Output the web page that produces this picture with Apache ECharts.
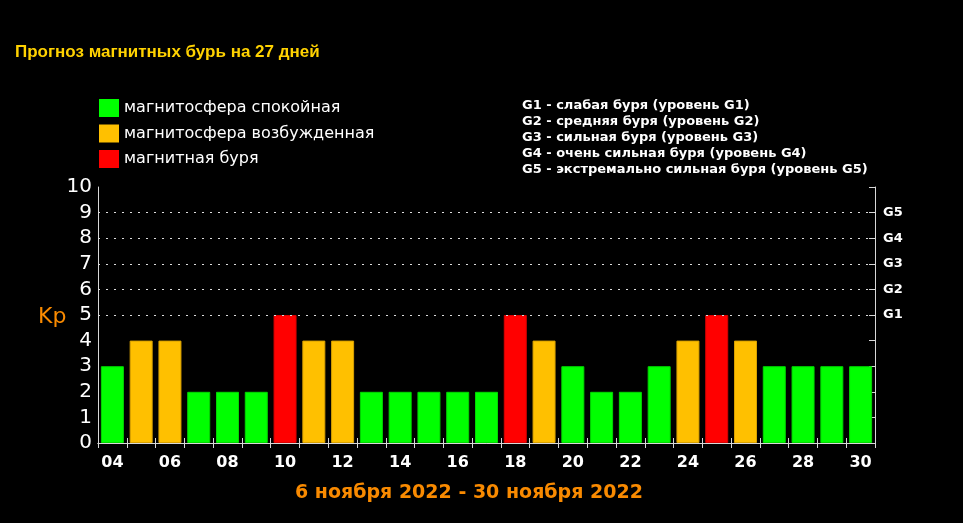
<!DOCTYPE html>
<html>
<head>
<meta charset="utf-8">
<script src="https://cdn.jsdelivr.net/npm/echarts@6/dist/echarts.min.js"></script>
<style>
html,body{margin:0;padding:0;background:#000;}
#chart{width:963px;height:523px;}
</style>
</head>
<body>
<div id="chart"></div>
<script>
const days = ['04','05','06','07','08','09','10','11','12','13','14','15','16','17','18','19','20','21','22','23','24','25','26','27','28','29','30'];
const kp = [3,4,4,2,2,2,5,4,4,2,2,2,2,2,5,4,3,2,2,3,4,5,4,3,3,3,3];
const levelNames = ['магнитосфера спокойная','магнитосфера возбужденная','магнитная буря'];
const levelColors = ['#00ff00','#ffc000','#ff0000'];
const levelBorders = ['#00d800','#d8a000','#d80000'];
const gLevels = [5,6,7,8,9];
const gLabels = ['G1','G2','G3','G4','G5'];
const gLegend = [
  'G1 - слабая буря (уровень G1)',
  'G2 - средняя буря (уровень G2)',
  'G3 - сильная буря (уровень G3)',
  'G4 - очень сильная буря (уровень G4)',
  'G5 - экстремально сильная буря (уровень G5)'
];
const titleText = 'Прогноз магнитных бурь на 27 дней';
const periodText = '6 ноября 2022 - 30 ноября 2022';

function levelOf(v){ return v >= 5 ? 2 : (v >= 4 ? 1 : 0); }

const series = levelNames.map((name, li) => ({
  name: name,
  type: 'bar',
  stack: 'kp',
  barWidth: 23,
  itemStyle: {color: levelColors[li], borderColor: levelBorders[li], borderWidth: 1},
  data: kp.map(v => levelOf(v) === li ? v : '-')
}));
series[0].markLine = {
  silent: true,
  symbol: 'none',
  label: {show: false},
  lineStyle: {color: '#dddddd', type: [2, 6], width: 1},
  data: gLevels.map(v => ({yAxis: v}))
};

const chart = echarts.init(document.getElementById('chart'));
chart.setOption({
  backgroundColor: '#000',
  animation: false,
  title: [
    {text: titleText, left: 15, top: 44, padding: 0, textStyle: {color: '#ffd200', fontSize: 17, fontWeight: 'bold', fontFamily: 'Liberation Sans'}},
    {text: periodText, left: 295, top: 484, padding: 0, textStyle: {color: '#f98a00', fontSize: 19, fontWeight: 'bold', fontFamily: 'DejaVu Sans'}},
    {text: gLegend.join('\n'), left: 522, top: 98, padding: 0, textStyle: {color: '#ffffff', fontSize: 13, fontWeight: 'bold', lineHeight: 16, fontFamily: 'DejaVu Sans'}},
    {text: 'Kp', left: 38, top: 306, padding: 0, textStyle: {color: '#f98a00', fontSize: 22, fontWeight: 'normal', fontFamily: 'DejaVu Sans'}}
  ],
  legend: {
    data: levelNames,
    orient: 'vertical',
    left: 99, top: 99,
    padding: 0,
    icon: 'rect',
    itemWidth: 20, itemHeight: 18, itemGap: 7.5,
    selectedMode: false,
    itemStyle: {borderWidth: 0},
    textStyle: {color: '#ffffff', fontSize: 16, fontFamily: 'DejaVu Sans'}
  },
  grid: {left: 98, right: 88, top: 187, bottom: 80, containLabel: false},
  xAxis: [
    {
      type: 'category', data: days, position: 'bottom',
      axisLine: {show: true, lineStyle: {color: '#d8d8d8', width: 1}},
      axisTick: {show: true, inside: true, length: 5, interval: 0, lineStyle: {color: '#d8d8d8'}},
      axisLabel: {interval: 1, color: '#ffffff', fontSize: 16, fontWeight: 'bold', fontFamily: 'DejaVu Sans', margin: 12},
      splitLine: {show: false}
    },
    {
      type: 'category', data: days, position: 'top',
      axisLine: {show: true, lineStyle: {color: '#d8d8d8', width: 1}},
      axisTick: {show: true, inside: true, length: 5, interval: 0, lineStyle: {color: '#d8d8d8'}},
      axisLabel: {show: false},
      splitLine: {show: false}
    }
  ],
  yAxis: [
    {
      type: 'value', min: 0, max: 10, interval: 1, position: 'left',
      axisLine: {show: true, lineStyle: {color: '#d8d8d8', width: 1}},
      axisTick: {show: false},
      axisLabel: {color: '#ffffff', fontSize: 20, fontFamily: 'DejaVu Sans', margin: 6},
      splitLine: {show: false}
    },
    {
      type: 'value', min: 0, max: 10, interval: 1, position: 'right',
      axisLine: {show: true, lineStyle: {color: '#d8d8d8', width: 1}},
      axisTick: {show: true, inside: true, length: 6, lineStyle: {color: '#d8d8d8'}},
      axisLabel: {
        color: '#ffffff', fontSize: 13, fontWeight: 'bold', fontFamily: 'DejaVu Sans', margin: 8,
        formatter: v => { const i = gLevels.indexOf(v); return i >= 0 ? gLabels[i] : ''; }
      },
      splitLine: {show: false}
    }
  ],
  series: series
});
</script>
</body>
</html>
